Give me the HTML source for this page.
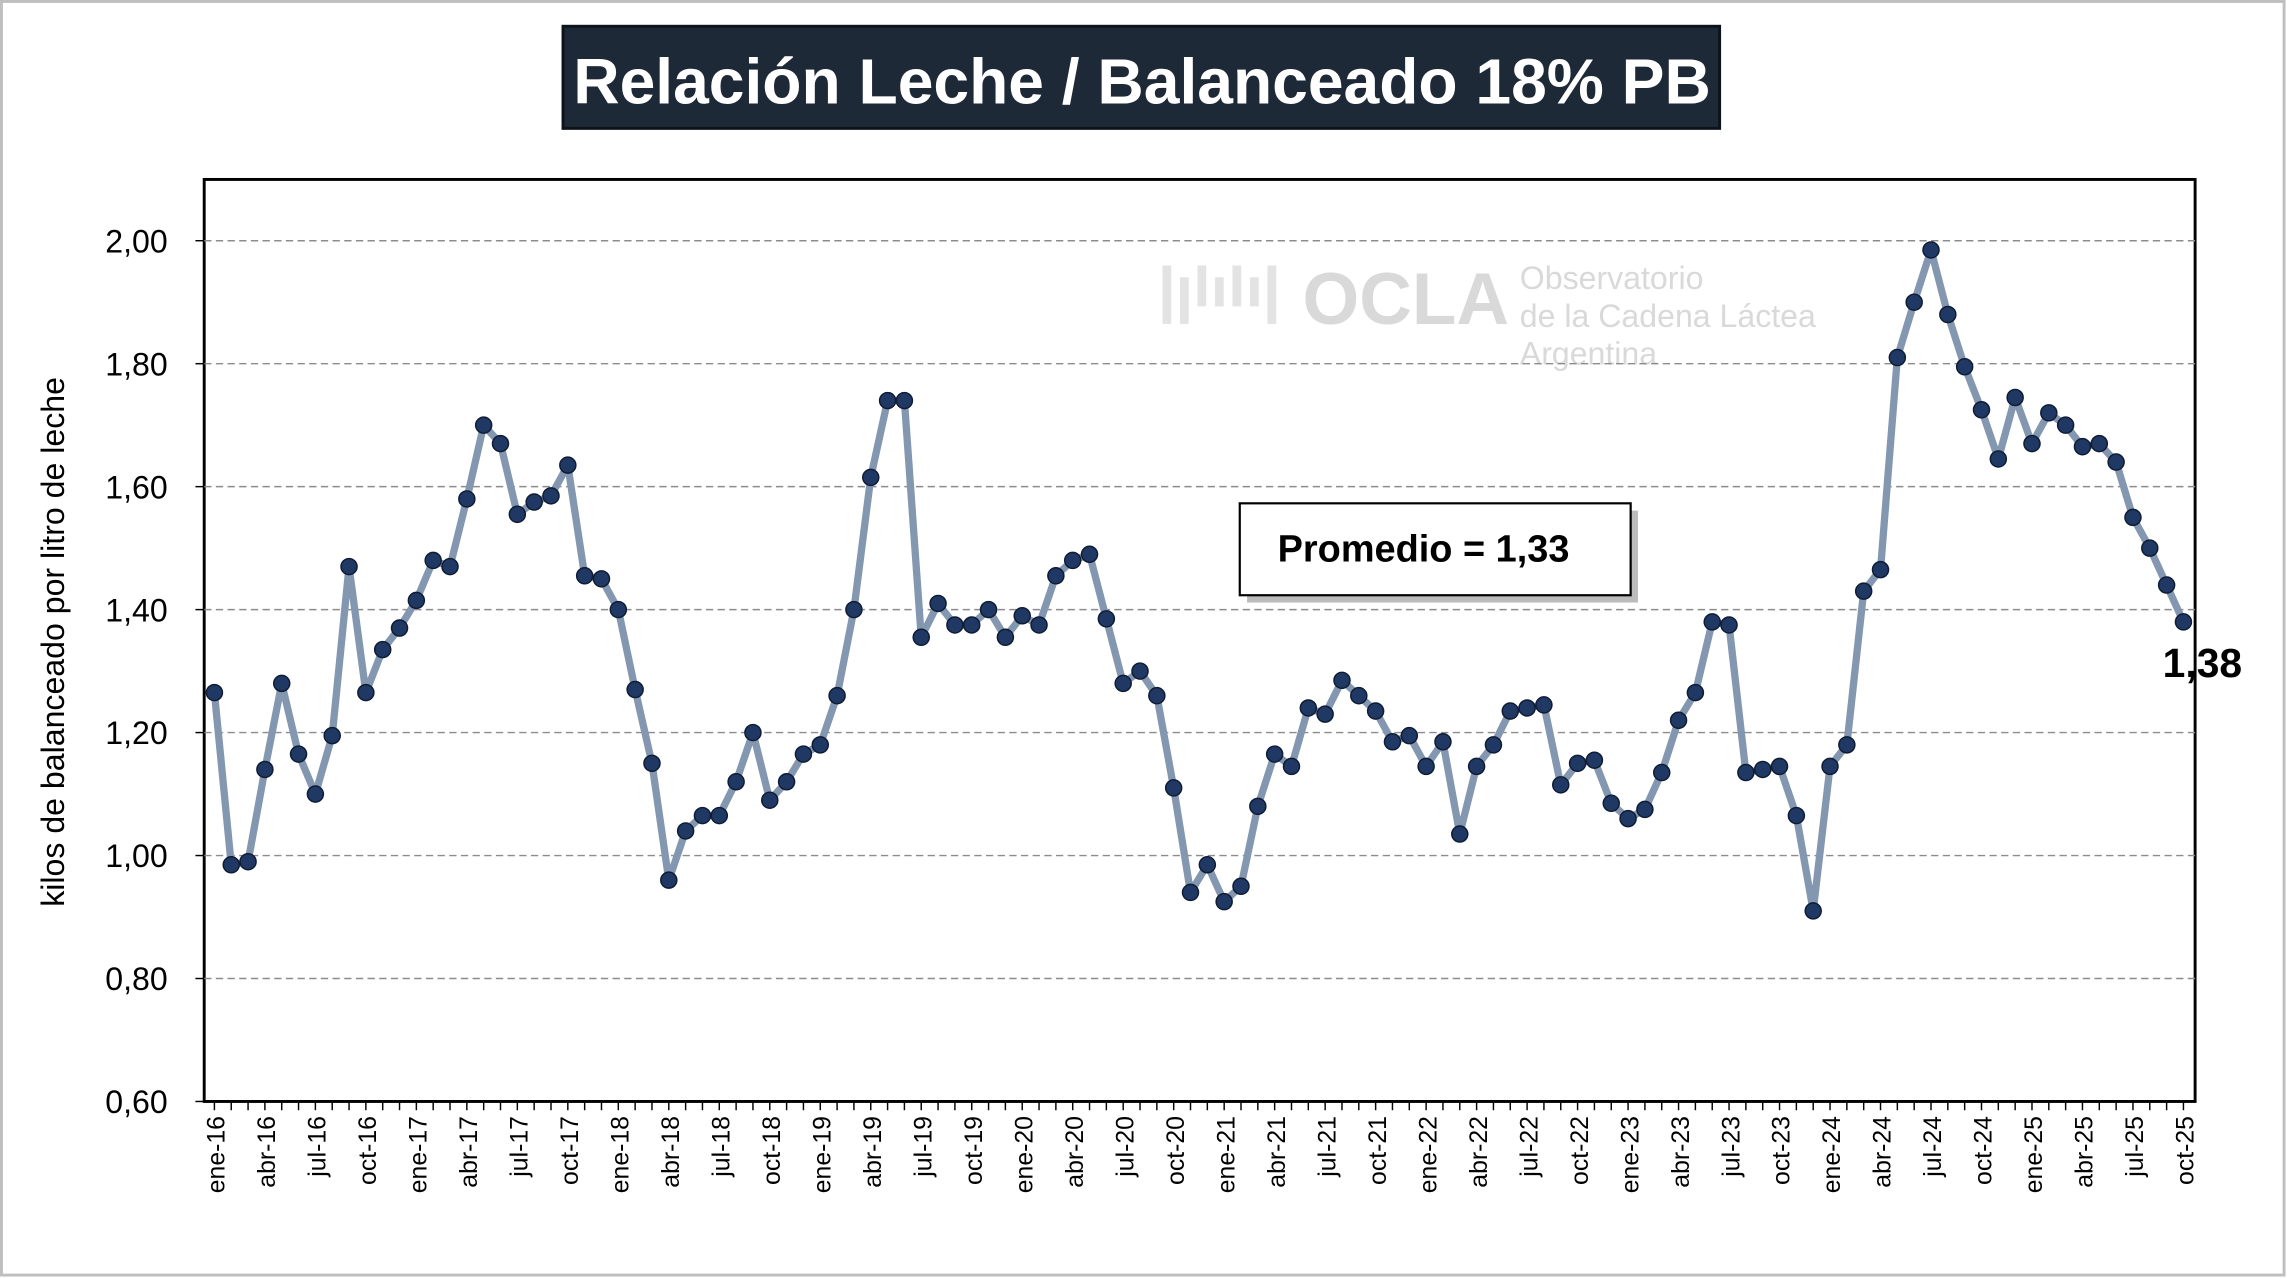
<!DOCTYPE html>
<html><head><meta charset="utf-8"><style>
html,body{margin:0;padding:0;background:#fff;}
svg{display:block;font-family:"Liberation Sans",sans-serif;}
</style></head><body>
<svg width="2287" height="1278" viewBox="0 0 1568 876" preserveAspectRatio="none">
<rect x="1" y="1" width="1565" height="873" fill="#fff" stroke="#bfbfbf" stroke-width="2"/>
<rect x="386" y="18" width="793" height="70" fill="#1e2937" stroke="#0d131a" stroke-width="2"/>
<text x="783" y="71" text-anchor="middle" fill="#fff" font-weight="bold" font-size="44">Relación Leche / Balanceado 18% PB</text>
<g fill="#d9d9d9">
<text x="893" y="222" font-size="50" font-weight="bold">OCLA</text>
<text x="1042" y="198" font-size="22">Observatorio</text>
<text x="1042" y="224" font-size="22">de la Cadena Láctea</text>
<text x="1042" y="250" font-size="22">Argentina</text>
<path d="M800 222 V182 M812 222 V190 M824 210 V182 M836 210 V190 M848 210 V182 M860 210 V190 M872 222 V182" stroke="#e3e3e3" stroke-width="6" fill="none"/>
</g>
<rect x="140" y="123" width="1365" height="632" fill="none" stroke="#000" stroke-width="2"/>
<g id="grid"></g><g id="yticks"></g><g id="xticks"></g><g id="series"></g>
<text transform="translate(44,440) rotate(-90)" text-anchor="middle" font-size="22">kilos de balanceado por litro de leche</text>
<rect x="855" y="350" width="268" height="63" fill="#bbb"/>
<rect x="850" y="345" width="268" height="63" fill="#fff" stroke="#000" stroke-width="1.5"/>
<text x="976" y="385" text-anchor="middle" font-size="26" font-weight="bold">Promedio = 1,33</text>
<text x="1510" y="464" text-anchor="middle" font-size="28" font-weight="bold">1,38</text>
</svg>
<script>
const yTicks=[0.6,0.8,1.0,1.2,1.4,1.6,1.8,2.0];
const monthNames=["ene","feb","mar","abr","may","jun","jul","ago","sep","oct","nov","dic"];
const values=[1.265,0.985,0.99,1.14,1.28,1.165,1.10,1.195,1.47,1.265,1.335,1.37,
1.415,1.48,1.47,1.58,1.70,1.67,1.555,1.575,1.585,1.635,1.455,1.45,
1.40,1.27,1.15,0.96,1.04,1.065,1.065,1.12,1.20,1.09,1.12,1.165,
1.18,1.26,1.40,1.615,1.74,1.74,1.355,1.41,1.375,1.375,1.40,1.355,
1.39,1.375,1.455,1.48,1.49,1.385,1.28,1.30,1.26,1.11,0.94,0.985,
0.925,0.95,1.08,1.165,1.145,1.24,1.23,1.285,1.26,1.235,1.185,1.195,
1.145,1.185,1.035,1.145,1.18,1.235,1.24,1.245,1.115,1.15,1.155,1.085,
1.06,1.075,1.135,1.22,1.265,1.38,1.375,1.135,1.14,1.145,1.065,0.91,
1.145,1.18,1.43,1.465,1.81,1.90,1.985,1.88,1.795,1.725,1.645,1.745,
1.67,1.72,1.70,1.665,1.67,1.64,1.55,1.50,1.44,1.38];
const startYear=16;
const NS="http://www.w3.org/2000/svg";
const x0=147,x1=1497,yb=755,yt=165;
const xs=i=>x0+(x1-x0)*i/(values.length-1);
const ys=v=>yb-(v-0.6)/(2.0-0.6)*(yb-yt);
function mk(t,a,p){const e=document.createElementNS(NS,t);for(const k in a)e.setAttribute(k,a[k]);p.appendChild(e);return e;}
const grid=document.getElementById('grid'),yt_=document.getElementById('yticks'),xt=document.getElementById('xticks'),se=document.getElementById('series');
yTicks.forEach(v=>{
 if(v>0.6){const l=mk('line',{x1:140,x2:1505,y1:ys(v),y2:ys(v),stroke:'#8c8c8c','stroke-dasharray':'5,3','stroke-width':1},grid);
 
 }
 const tk=mk('line',{x1:134,x2:140,y1:ys(v),y2:ys(v),stroke:'#000'},yt_);
 
 
 const t=mk('text',{x:115,y:ys(v)+8,'text-anchor':'end','font-size':22},yt_);
 
 
 t.textContent=v.toFixed(2).replace('.',',');
});
values.forEach((v,i)=>{
 const tk=mk('line',{x1:xs(i),x2:xs(i),y1:755,y2:761,stroke:'#000'},xt);
 
 
 if(i%3===0){
  const lab=monthNames[i%12]+'-'+(startYear+Math.floor(i/12));
  const t=mk('text',{transform:`translate(${xs(i)+7},765) rotate(-90)`,'text-anchor':'end','font-size':17},xt);
  
  
  t.textContent=lab;
 }
});
const pl=mk('polyline',{points:values.map((v,i)=>xs(i)+','+ys(v)).join(' '),fill:'none',stroke:'#8497b0','stroke-width':5,'stroke-linejoin':'round'},se);


values.forEach((v,i)=>{
 const c=mk('circle',{cx:xs(i),cy:ys(v),r:5.5,fill:'#1f3864',stroke:'#0f1c33','stroke-width':1},se);
 
 
});
</script>
</body></html>
